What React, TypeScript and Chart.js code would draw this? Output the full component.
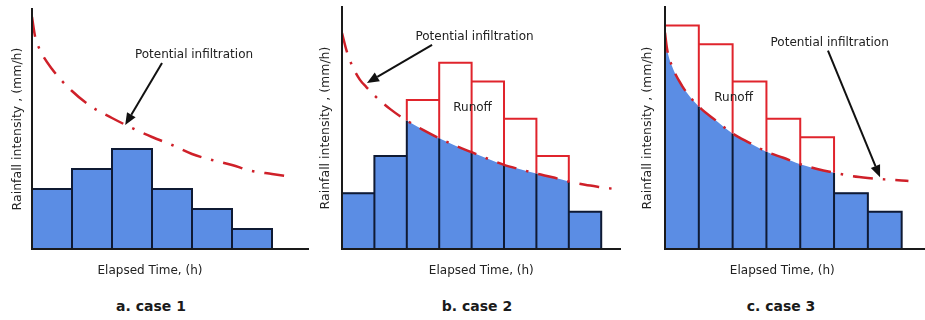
import React, { useEffect, useRef } from "react";
import { Chart, registerables } from "chart.js";

Chart.register(...registerables);

const FONT = "'DejaVu Sans', Verdana, sans-serif";

// ---------- case 1 ----------
const rainA = [3, 4, 5, 3, 2, 1];
const infilXA = [0, 0.08, 0.2, 0.5, 1, 1.5, 2, 2.5, 3, 3.5, 4, 4.5, 5, 5.5, 6, 6.5];
const infilYA = [11.6, 10.6, 9.95, 9.0, 7.9, 7.1, 6.55, 6.05, 5.6, 5.2, 4.75, 4.45, 4.2, 3.9, 3.75, 3.6];

// ---------- case 2 ----------
const rainB = [3, 5, 8, 10, 9, 7, 5, 2];
const infilXB = [0, 0.15, 0.3, 0.55, 0.75, 1, 1.5, 2, 2.5, 3, 3.5, 4, 4.5, 5, 5.5, 6, 6.5, 7, 7.5, 8, 8.5];
const infilYB = [11.6, 10.6, 9.9, 9.1, 8.7, 8.25, 7.5, 6.9, 6.4, 5.95, 5.55, 5.2, 4.85, 4.52, 4.28, 4.05, 3.85, 3.62, 3.45, 3.32, 3.2];

// ---------- case 3 ----------
const rainC = [12, 11, 9, 7, 6, 3, 2];
const infilXC = [0, 0.06, 0.2, 0.5, 1, 1.5, 2, 2.5, 3, 3.5, 4, 4.5, 5, 5.5, 6, 6.5, 7, 7.2];
const infilYC = [11.62, 10.76, 9.86, 8.78, 7.65, 6.91, 6.2, 5.7, 5.23, 4.9, 4.55, 4.3, 4.1, 3.93, 3.82, 3.74, 3.68, 3.65];

// ---------- texts ----------
const captions = ["a. case 1", "b. case 2", "c. case 3"];
const yTitle = "Rainfall intensity , (mm/h)";
const xTitle = "Elapsed Time, (h)";
const infilLabel = "Potential infiltration";
const runoffLabel = "Runoff";

const BLUE = "#5b8de4";
const RED = "#e0242c";
const CURVE_RED = "#cf2029";
const DARK = "#0f1a33";
const TEXT = "#222222";

type Pt = { x: number; y: number | null };

function buildDatasets(rain: number[], cx: number[], cy: number[]) {
  const f = (x: number) => cy[cx.indexOf(x)];
  const runoff = rain.map((r, i) => r > f(i + 1));
  const bars: Pt[] = rain.map((r, i) => ({ x: i + 0.5, y: runoff[i] ? null : r }));
  const edges: Pt[] = [];
  const red: Pt[] = [];
  rain.forEach((r, i) => {
    if (runoff[i]) {
      edges.push({ x: i, y: 0 }, { x: i, y: f(i) }, { x: i, y: null });
      edges.push({ x: i + 1, y: 0 }, { x: i + 1, y: f(i + 1) }, { x: i + 1, y: null });
      red.push({ x: i, y: f(i) }, { x: i, y: r }, { x: i + 1, y: r }, { x: i + 1, y: f(i + 1) }, { x: i + 1, y: null });
    } else {
      edges.push({ x: i, y: 0 }, { x: i, y: r }, { x: i + 1, y: r }, { x: i + 1, y: 0 }, { x: i + 1, y: null });
    }
  });
  const first = runoff.indexOf(true);
  const last = runoff.lastIndexOf(true);
  const curve: Pt[] = cx.map((x, k) => ({ x, y: cy[k] }));
  const under: Pt[] = first < 0 ? [] : curve.filter((p) => p.x >= first && p.x <= last + 1);
  return [
    {
      type: "line", label: "infiltration", data: curve, borderColor: CURVE_RED, borderWidth: 2.5,
      borderDash: [20, 10, 2.5, 10], borderCapStyle: "butt", pointRadius: 0, fill: false,
      cubicInterpolationMode: "monotone", order: 0,
    },
    {
      type: "line", label: "runoff", data: red, borderColor: RED, borderWidth: 2, pointRadius: 0,
      tension: 0, fill: false, spanGaps: false, borderJoinStyle: "miter", order: 1,
    },
    {
      type: "line", label: "edges", data: edges, borderColor: DARK, borderWidth: 2, pointRadius: 0,
      tension: 0, fill: false, spanGaps: false, borderJoinStyle: "miter", order: 2,
    },
    {
      type: "line", label: "infiltrated", data: under, borderColor: "rgba(0,0,0,0)", borderWidth: 0,
      backgroundColor: BLUE, fill: "origin", pointRadius: 0, cubicInterpolationMode: "monotone", order: 3,
    },
    {
      type: "bar", label: "rain", data: bars, backgroundColor: BLUE, borderWidth: 0,
      barPercentage: 1, categoryPercentage: 1, order: 4,
    },
  ];
}

type Arrow = { x1: number; y1: number; x2: number; y2: number };
type Label = { text: string; x: number; y: number };

type PanelProps = {
  rain: number[];
  cx: number[];
  cy: number[];
  left: number;
  width: number;
  xMax: number;
  yMax: number;
  padTop: number;
  padRight: number;
  yTitlePad: { top: number; bottom: number };
  xTitleAt: number;
  labels: Label[];
  arrows: Arrow[];
};

function drawArrow(ctx: CanvasRenderingContext2D, x1: number, y1: number, x2: number, y2: number) {
  const ang = Math.atan2(y2 - y1, x2 - x1);
  const head = 12;
  const w = 5;
  const bx = x2 - head * Math.cos(ang);
  const by = y2 - head * Math.sin(ang);
  ctx.strokeStyle = "#111";
  ctx.fillStyle = "#111";
  ctx.lineWidth = 2;
  ctx.setLineDash([]);
  ctx.beginPath();
  ctx.moveTo(x1, y1);
  ctx.lineTo(bx, by);
  ctx.stroke();
  ctx.beginPath();
  ctx.moveTo(x2, y2);
  ctx.lineTo(bx + w * Math.sin(ang), by - w * Math.cos(ang));
  ctx.lineTo(bx - w * Math.sin(ang), by + w * Math.cos(ang));
  ctx.closePath();
  ctx.fill();
}

const CANVAS_H = 290;

function Panel(p: PanelProps) {
  const ref = useRef<HTMLCanvasElement | null>(null);
  useEffect(() => {
    if (!ref.current) return;
    const annot = {
      id: "annot",
      afterDatasetsDraw(chart: any) {
        const { ctx, chartArea } = chart;
        const xs = chart.scales.x;
        const ys = chart.scales.y;
        ctx.save();
        ctx.font = `12px ${FONT}`;
        ctx.fillStyle = TEXT;
        ctx.textAlign = "center";
        ctx.textBaseline = "middle";
        for (const l of p.labels) ctx.fillText(l.text, xs.getPixelForValue(l.x), ys.getPixelForValue(l.y));
        ctx.fillText(xTitle, xs.getPixelForValue(p.xTitleAt), chartArea.bottom + 22);
        for (const a of p.arrows) {
          drawArrow(ctx, xs.getPixelForValue(a.x1), ys.getPixelForValue(a.y1), xs.getPixelForValue(a.x2), ys.getPixelForValue(a.y2));
        }
        ctx.restore();
      },
    };
    const chart = new Chart(ref.current, {
      type: "line",
      data: { datasets: buildDatasets(p.rain, p.cx, p.cy) as any },
      options: {
        animation: false,
        responsive: false,
        events: [],
        layout: { autoPadding: false, padding: { left: 0, right: p.padRight, top: p.padTop, bottom: 41 } },
        plugins: { legend: { display: false }, tooltip: { enabled: false }, title: { display: false } },
        scales: {
          x: {
            type: "linear", min: 0, max: p.xMax, offset: false,
            grid: { display: false, drawTicks: false },
            ticks: { display: false, stepSize: 1, includeBounds: false },
            border: { display: true, color: "#1a1a1a", width: 2, z: 1 },
          },
          y: {
            type: "linear", min: 0, max: p.yMax,
            grid: { display: false, drawTicks: false },
            ticks: { display: false },
            border: { display: true, color: "#1a1a1a", width: 2, z: 1 },
            title: {
              display: true, text: yTitle, color: TEXT,
              font: { family: FONT, size: 12.5, lineHeight: 1.2 },
              padding: p.yTitlePad,
            },
          },
        },
      } as any,
      plugins: [annot],
    });
    return () => chart.destroy();
  }, []);
  return (
    <canvas
      ref={ref}
      width={p.width}
      height={CANVAS_H}
      style={{ position: "absolute", left: p.left, top: 0, width: p.width, height: CANVAS_H }}
    />
  );
}

const captionCenters = [151, 477, 781];

export default function App() {
  return (
    <div style={{ position: "absolute", left: 0, top: 0, width: 925, height: 320, background: "#fff", overflow: "hidden" }}>
      <Panel
        rain={rainA} cx={infilXA} cy={infilYA}
        left={0} width={312} xMax={6.9} yMax={12} padTop={9} padRight={4}
        yTitlePad={{ top: 10, bottom: 7 }} xTitleAt={2.95}
        labels={[{ text: infilLabel, x: 4.05, y: 9.7 }]}
        arrows={[{ x1: 3.25, y1: 9.3, x2: 2.33, y2: 6.2 }]}
      />
      <Panel
        rain={rainB} cx={infilXB} cy={infilYB}
        left={312} width={310} xMax={8.58} yMax={13} padTop={7} padRight={2}
        yTitlePad={{ top: 6, bottom: 9 }} xTitleAt={4.3}
        labels={[{ text: infilLabel, x: 4.09, y: 11.4 }, { text: runoffLabel, x: 4.03, y: 7.58 }]}
        arrows={[{ x1: 2.78, y1: 10.97, x2: 0.77, y2: 8.92 }]}
      />
      <Panel
        rain={rainC} cx={infilXC} cy={infilYC}
        left={622} width={303} xMax={7.69} yMax={13} padTop={7} padRight={0}
        yTitlePad={{ top: 18, bottom: 10 }} xTitleAt={3.47}
        labels={[{ text: infilLabel, x: 4.87, y: 11.09 }, { text: runoffLabel, x: 2.03, y: 8.14 }]}
        arrows={[{ x1: 4.82, y1: 10.66, x2: 6.36, y2: 3.86 }]}
      />
      {captions.map((c, i) => (
        <div
          key={c}
          style={{
            position: "absolute", left: captionCenters[i] - 70, width: 140, top: 297, height: 18,
            lineHeight: "18px", textAlign: "center", fontFamily: FONT, fontWeight: "bold",
            fontSize: 14, color: "#1a1a1a",
          }}
        >
          {c}
        </div>
      ))}
    </div>
  );
}
